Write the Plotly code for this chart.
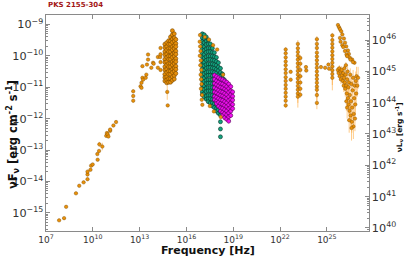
import plotly.graph_objects as go

# ---------------- data (log10 nu [Hz], log10 nuFnu [erg cm-2 s-1]) ----------------
radio_lx = [7.84, 8.16, 8.29, 8.92, 9.13, 9.41, 9.66, 9.66, 9.66, 9.85, 9.89, 9.99,
            10.31, 10.29, 10.40, 10.42, 10.61, 10.86, 10.90, 10.95, 11.00, 11.11, 11.11, 11.32, 11.49]
radio_ly = [-15.24, -15.17, -14.81, -14.38, -14.14, -14.03, -13.93, -13.78, -13.69, -13.63, -13.50, -13.46,
            -13.31, -13.13, -13.03, -12.82, -12.89, -12.55, -12.46, -12.50, -12.57, -12.39, -12.35, -12.22, -12.11]
radio_err = [0.04, 0.04, 0.04, 0.04, 0.04, 0.04, 0.06, 0.06, 0.06, 0.04, 0.04, 0.04,
             0.04, 0.04, 0.04, 0.08, 0.12, 0.05, 0.05, 0.05, 0.05, 0.05, 0.05, 0.05, 0.05]

ir_lx = [12.59, 12.59, 12.59, 13.06, 13.12, 13.12, 13.18, 13.18, 13.22, 13.39, 13.43, 13.47,
         13.54, 13.54, 13.75, 13.86, 13.90, 14.17, 14.17, 14.32, 14.34, 14.34, 14.34, 14.34, 14.77, 14.80]
ir_ly = [-11.13, -11.43, -11.28, -10.97, -10.86, -11.02, -10.70, -10.33, -10.76, -10.70, -10.60, -10.28,
         -10.12, -9.96, -10.38, -10.22, -10.25, -10.04, -10.38, -10.04, -9.75, -9.95, -10.20, -10.45, -11.15, -11.58]
ir_err = [0.06, 0.06, 0.06, 0.05, 0.05, 0.05, 0.05, 0.05, 0.05, 0.05, 0.05, 0.05,
          0.05, 0.05, 0.05, 0.05, 0.05, 0.05, 0.05, 0.05, 0.05, 0.05, 0.05, 0.05, 0.25, 0.05]

opt_col_lx = [14.62, 14.74, 14.86, 14.98, 15.10, 15.22, 15.32]
opt_col_ly = [
    [-9.63, -9.74, -9.87, -9.97, -10.11, -10.21, -10.35, -10.45, -10.59, -10.69, -10.80],
    [-9.58, -9.71, -9.81, -9.95, -10.05, -10.19, -10.29, -10.43, -10.53, -10.67, -10.77, -10.86],
    [-9.52, -9.63, -9.77, -9.87, -10.01, -10.11, -10.25, -10.35, -10.49, -10.59, -10.73, -10.84],
    [-9.40, -9.53, -9.63, -9.77, -9.87, -10.01, -10.11, -10.25, -10.35, -10.49, -10.59, -10.73, -10.84],
    [-9.20, -9.33, -9.47, -9.57, -9.71, -9.81, -9.95, -10.05, -10.19, -10.29, -10.43, -10.53, -10.67, -10.78],
    [-9.30, -9.43, -9.53, -9.67, -9.77, -9.91, -10.01, -10.15, -10.25, -10.39, -10.49, -10.63, -10.74],
    [-9.48, -9.61, -9.71, -9.85, -9.95, -10.09, -10.19, -10.33, -10.43, -10.56],
]

xor_lx = [16.87, 16.85, 16.88, 16.90, 16.86, 16.92, 16.89, 16.95, 16.91, 16.94, 16.97, 16.93,
          17.00, 16.98, 17.02, 17.18, 17.44, 17.71, 17.97, 18.35, 17.76, 17.50, 18.20]
xor_ly = [-9.34, -9.55, -9.70, -9.85, -10.00, -10.15, -10.30, -10.45, -10.60, -10.75, -10.90, -11.05,
          -11.25, -11.40, -11.56, -9.40, -9.48, -9.66, -9.80, -10.60, -11.77, -11.60, -11.95]

green_col_lx = [17.02, 17.14, 17.27, 17.40, 17.53, 17.66, 17.79, 17.92, 18.05, 18.18, 18.31, 18.42]
green_col_ly = [
    [-9.30, -9.43, -9.54, -9.67, -9.78, -9.92, -10.03, -10.17, -10.28, -10.41, -10.52, -10.66, -10.78, -10.91, -11.02, -11.15, -11.24],
    [-9.33, -9.45, -9.58, -9.71, -9.82, -9.96, -10.07, -10.21, -10.32, -10.46, -10.57, -10.71, -10.82, -10.96, -11.07, -11.21, -11.31],
    [-9.40, -9.53, -9.64, -9.78, -9.89, -10.03, -10.14, -10.28, -10.39, -10.53, -10.64, -10.78, -10.89, -11.03, -11.14, -11.28, -11.38],
    [-9.50, -9.62, -9.76, -9.87, -10.01, -10.12, -10.26, -10.37, -10.51, -10.62, -10.76, -10.87, -11.01, -11.12, -11.26, -11.37, -11.46],
    [-9.62, -9.76, -9.87, -10.01, -10.12, -10.26, -10.37, -10.51, -10.62, -10.76, -10.87, -11.01, -11.12, -11.26, -11.37, -11.50],
    [-9.76, -9.89, -10.01, -10.14, -10.26, -10.39, -10.51, -10.64, -10.76, -10.89, -11.01, -11.14, -11.26, -11.39, -11.50, -11.60],
    [-9.90, -10.03, -10.15, -10.28, -10.40, -10.53, -10.65, -10.78, -10.90, -11.03, -11.15, -11.28, -11.40, -11.53, -11.65],
    [-10.05, -10.18, -10.30, -10.43, -10.55, -10.68, -10.80, -10.93, -11.05, -11.18, -11.30, -11.43, -11.55, -11.68, -11.76],
    [-10.22, -10.36, -10.47, -10.61, -10.72, -10.86, -10.97, -11.11, -11.22, -11.36, -11.47, -11.61, -11.72, -11.83],
    [-10.40, -10.53, -10.65, -10.78, -10.90, -11.03, -11.15, -11.28, -11.40, -11.53, -11.65, -11.78, -11.89, -12.10, -12.33, -12.58],
    [-10.58, -10.71, -10.83, -10.96, -11.08, -11.21, -11.33, -11.46, -11.58],
    [-10.76, -10.91, -11.05, -11.19],
]

mag_col_lx = [17.80, 17.93, 18.06, 18.19, 18.32, 18.45, 18.58, 18.71, 18.84, 18.96]
mag_col_ly = [
    [-10.62, -10.75, -10.88, -11.02, -11.15, -11.29, -11.40],
    [-10.66, -10.80, -10.92, -11.06, -11.18, -11.32, -11.44, -11.52],
    [-10.70, -10.84, -10.96, -11.10, -11.22, -11.36, -11.48, -11.61],
    [-10.74, -10.88, -11.00, -11.14, -11.26, -11.40, -11.52, -11.66, -11.76],
    [-10.76, -10.90, -11.02, -11.16, -11.28, -11.42, -11.54, -11.68, -11.80, -11.90],
    [-10.80, -10.94, -11.06, -11.20, -11.32, -11.46, -11.58, -11.72, -11.84, -11.97],
    [-10.84, -10.98, -11.10, -11.24, -11.36, -11.50, -11.62, -11.76, -11.88, -12.02],
    [-10.90, -11.04, -11.16, -11.30, -11.42, -11.56, -11.68, -11.82, -11.94, -12.08],
    [-10.98, -11.12, -11.24, -11.38, -11.50, -11.64, -11.76, -11.90],
    [-11.15, -11.29, -11.41, -11.55, -11.68],
]

gam_lx = ([22.36] * 15 + [22.68, 22.68] + [23.14] * 15 + [23.30] * 7 + [23.66, 23.68]
          + [24.36] * 16 + [24.62, 24.89, 25.10, 25.14] + [25.35] * 12)
gam_ly = ([-9.80, -9.92, -10.05, -10.18, -10.30, -10.43, -10.55, -10.68, -10.80, -10.93, -11.05, -11.18, -11.30, -11.43, -11.58]
          + [-10.51, -10.76]
          + [-9.62, -9.76, -9.88, -10.00, -10.12, -10.24, -10.36, -10.48, -10.60, -10.72, -10.84, -10.96, -11.08, -11.20, -11.30]
          + [-10.07, -10.25, -10.45, -10.65, -10.85, -11.05, -11.24]
          + [-10.36, -10.47]
          + [-9.47, -9.62, -9.75, -9.90, -10.02, -10.14, -10.26, -10.38, -10.50, -10.62, -10.74, -10.86, -10.98, -11.08, -11.25, -11.50]
          + [-10.36, -10.38, -10.28, -10.41]
          + [-9.35, -9.50, -9.62, -9.74, -9.86, -9.98, -10.10, -10.22, -10.34, -10.46, -10.58, -10.70])
gam_err = ([0.08] * 15 + [0.05, 0.05] + [0.12, 0.15, 0.10, 0.12, 0.18, 0.12, 0.15, 0.20, 0.15, 0.18, 0.25, 0.20, 0.22, 0.30, 0.35]
           + [0.10] * 7 + [0.05, 0.05]
           + [0.10, 0.12, 0.10, 0.12, 0.12, 0.15, 0.12, 0.15, 0.15, 0.18, 0.18, 0.20, 0.22, 0.25, 0.20, 0.20]
           + [0.05, 0.05, 0.05, 0.05]
           + [0.08, 0.10, 0.12, 0.10, 0.15, 0.15, 0.20, 0.25, 0.25, 0.30, 0.35, 0.40])

vhe_lx = [25.71, 25.78, 25.84, 25.92, 25.99, 26.09, 26.16, 26.24, 26.35, 26.41, 26.47, 26.62, 26.77,
          25.84, 25.88, 25.99, 26.05, 26.16, 26.26, 26.30, 26.51, 26.67,
          25.70, 25.75, 25.80, 25.82, 25.88, 25.90, 25.95, 25.97, 26.02, 26.05, 26.08, 26.10, 26.12, 26.15,
          26.18, 26.20, 26.22, 26.25, 26.28, 26.30, 26.33, 26.35, 26.38, 26.40, 26.42, 26.45, 26.47, 26.50,
          26.52, 26.55, 26.57, 26.60, 26.62, 26.65, 26.68, 26.70, 26.72, 26.75, 26.78, 26.80, 26.82, 26.85,
          26.88, 26.90, 26.95, 27.00, 26.58, 26.43, 26.30, 26.25]
vhe_ly = [-9.02, -9.09, -9.15, -9.22, -9.32, -9.45, -9.58, -9.70, -9.83, -9.94, -10.06, -10.12, -10.22,
          -9.43, -9.55, -9.66, -9.72, -9.85, -9.96, -10.01, -10.12, -10.20,
          -10.45, -10.55, -10.40, -10.65, -10.50, -10.75, -10.45, -10.62, -10.80, -10.55, -10.95, -10.70, -10.40, -10.85,
          -11.05, -10.60, -10.30, -10.95, -11.20, -10.75, -10.50, -11.35, -11.00, -11.55, -10.85, -11.75, -11.25, -10.60,
          -11.90, -11.45, -10.90, -12.10, -11.65, -11.10, -10.70, -12.25, -11.85, -11.35, -10.95, -12.00, -11.55, -10.80,
          -11.20, -10.65, -10.95, -10.70, -12.30, -12.05, -11.65, -11.45]
vhe_err = [0.03, 0.03, 0.03, 0.03, 0.03, 0.03, 0.03, 0.04, 0.04, 0.04, 0.05, 0.05, 0.06,
           0.04, 0.04, 0.04, 0.04, 0.05, 0.05, 0.05, 0.06, 0.06,
           0.10, 0.12, 0.10, 0.15, 0.10, 0.15, 0.12, 0.15, 0.20, 0.15, 0.20, 0.15, 0.10, 0.20,
           0.25, 0.15, 0.10, 0.25, 0.30, 0.20, 0.15, 0.30, 0.25, 0.30, 0.25, 0.35, 0.30, 0.20,
           0.35, 0.30, 0.25, 0.35, 0.35, 0.30, 0.25, 0.40, 0.35, 0.30, 0.30, 0.40, 0.35, 0.30,
           0.35, 0.30, 0.35, 0.35, 0.40, 0.40, 0.35, 0.30]

x_tickvals_log = [7, 10, 13, 16, 19, 22, 25]
x_ticktext = ["10<sup>7</sup>", "10<sup>10</sup>", "10<sup>13</sup>", "10<sup>16</sup>",
              "10<sup>19</sup>", "10<sup>22</sup>", "10<sup>25</sup>"]

# ---------------- helpers ----------------
def expand(col_lx, col_ly):
    xs, ys = [], []
    for cx, cys in zip(col_lx, col_ly):
        for cy in cys:
            xs.append(cx)
            ys.append(cy)
    return xs, ys


def add(fig, lx, ly, err, fill, edge, barcol, name, size=3.5, lw=0.4):
    x = [10.0 ** v for v in lx]
    y = [10.0 ** v for v in ly]
    plus = [yy * (10.0 ** e - 1) for yy, e in zip(y, err)]
    minus = [yy * (1 - 10.0 ** (-e)) for yy, e in zip(y, err)]
    fig.add_trace(go.Scatter(
        x=x, y=y, mode="markers", name=name, showlegend=False,
        marker=dict(size=size, color=fill, line=dict(width=lw, color=edge)),
        error_y=dict(type="data", array=plus, arrayminus=minus, symmetric=False,
                     color=barcol, thickness=1, width=0),
        hoverinfo="skip"))


ORANGE = "#e8900a"
ORANGE_EDGE = "#7a4800"
ORANGE_BAR = "rgba(255,170,60,0.6)"

fig = go.Figure()

glx, gly = expand(green_col_lx, green_col_ly)
add(fig, glx, gly, [0.05] * len(glx), "#14a37f", "#083026", "rgba(40,220,190,0.7)", "green", 4, 0.6)

mlx, mly = expand(mag_col_lx, mag_col_ly)
add(fig, mlx, mly, [0.08] * len(mlx), "#f010f0", "#500050", "rgba(255,40,255,0.8)", "magenta", 4, 0.6)

add(fig, xor_lx, xor_ly, [0.05] * len(xor_lx), ORANGE, ORANGE_EDGE, ORANGE_BAR, "xray_orange")
add(fig, radio_lx, radio_ly, radio_err, ORANGE, ORANGE_EDGE, ORANGE_BAR, "radio")
add(fig, ir_lx, ir_ly, ir_err, ORANGE, ORANGE_EDGE, ORANGE_BAR, "ir")
olx, oly = expand(opt_col_lx, opt_col_ly)
add(fig, olx, oly, [0.04] * len(olx), ORANGE, ORANGE_EDGE, ORANGE_BAR, "optical", 4, 0.6)
add(fig, gam_lx, gam_ly, gam_err, ORANGE, ORANGE_EDGE, ORANGE_BAR, "gamma")
add(fig, vhe_lx, vhe_ly, vhe_err, ORANGE, ORANGE_EDGE, ORANGE_BAR, "vhe")

# dummy trace for the right luminosity axis
fig.add_trace(go.Scatter(x=[1e10], y=[1e42], yaxis="y2", mode="markers",
                         marker=dict(opacity=0), showlegend=False, hoverinfo="skip"))

AX = "#8a8a8a"
TICKFONT = dict(family="DejaVu Sans", size=9, color="#333333")

fig.update_layout(
    width=408, height=262,
    margin=dict(l=45, r=36, t=15, b=31),
    paper_bgcolor="white", plot_bgcolor="white",
    font=dict(family="DejaVu Sans"),
    xaxis=dict(type="log", range=[7, 27.7], showgrid=False, zeroline=False,
               tickmode="array", tickvals=[10.0 ** v for v in x_tickvals_log], ticktext=x_ticktext,
               ticks="inside", ticklen=4, tickcolor=AX, showline=True, linecolor=AX, linewidth=1,
               mirror="ticks", tickfont=TICKFONT),
    yaxis=dict(type="log", range=[-15.58, -8.7], showgrid=False, zeroline=False,
               dtick=1, exponentformat="power",
               ticks="inside", ticklen=4, tickcolor=AX, showline=True, linecolor=AX, linewidth=1,
               minor=dict(ticks="inside", ticklen=2, tickcolor=AX, showgrid=False),
               tickfont=TICKFONT),
    yaxis2=dict(type="log", range=[39.9, 46.8], overlaying="y", side="right", showgrid=False,
                zeroline=False, dtick=1, exponentformat="power",
                ticks="inside", ticklen=4, tickcolor=AX, showline=True, linecolor=AX, linewidth=1,
                minor=dict(ticks="inside", ticklen=2, tickcolor=AX, showgrid=False),
                tickfont=TICKFONT),
    annotations=[
        dict(text="<b>PKS 2155-304</b>", xref="paper", yref="paper", x=0, y=1.0, yshift=4,
             xanchor="left", yanchor="bottom", showarrow=False,
             font=dict(size=7, color="#a31515", family="DejaVu Sans")),
        dict(text="<b>Frequency [Hz]</b>", xref="paper", yref="paper", x=0.5, y=0, yshift=-19,
             xanchor="center", yanchor="middle", showarrow=False,
             font=dict(size=11, color="#111111", family="DejaVu Sans")),
        dict(text="<b>νF<sub>ν</sub> [erg cm<sup>-2</sup> s<sup>-1</sup>]</b>", xref="paper", yref="paper",
             x=0, xshift=-33, y=0.444, textangle=-90, xanchor="center", yanchor="middle", showarrow=False,
             font=dict(size=11.5, color="#111111", family="DejaVu Sans")),
        dict(text="<b>νL<sub>ν</sub> [erg s<sup>-1</sup>]</b>", xref="paper", yref="paper",
             x=1, xshift=30, y=0.48, textangle=-90, xanchor="center", yanchor="middle", showarrow=False,
             font=dict(size=7.5, color="#111111", family="DejaVu Sans")),
    ],
)

fig.write_html("out.html", config={"displayModeBar": False},
               post_script="document.body.style.margin='0';document.body.style.padding='0';")
